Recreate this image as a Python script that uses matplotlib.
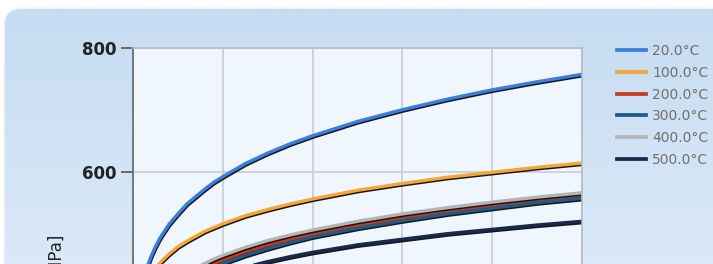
import matplotlib
matplotlib.use("Agg")
import matplotlib.pyplot as plt
import matplotlib.patheffects as pe
from matplotlib.patches import FancyBboxPatch
from matplotlib.lines import Line2D
import numpy as np

# strain positions (grid units) and stress [MPa]
strain = [0.15, 0.2, 0.25, 0.3, 0.4, 0.5, 0.6, 0.7, 0.8, 0.9, 1,
          1.25, 1.5, 1.75, 2, 2.5, 3, 3.5, 4, 4.5, 5]
s_20 = [443, 463, 479, 493, 515, 532, 548, 560, 572, 583, 592,
        613, 630, 645, 658, 681, 700, 717, 732, 745, 757]
s_100 = [420, 434, 444, 453, 467, 479, 488, 496, 504, 510, 516,
         529, 539, 548, 556, 570, 581, 591, 599, 607, 614]
s_200 = [362, 375, 386, 394, 409, 420, 430, 438, 446, 452, 458,
         471, 482, 491, 499, 513, 525, 535, 544, 552, 559]
s_300 = [353, 367, 377, 387, 401, 413, 423, 432, 439, 446, 452,
         465, 476, 486, 495, 509, 521, 532, 541, 550, 557]
s_400 = [369, 382, 393, 401, 416, 427, 437, 445, 452, 459, 465,
         478, 489, 498, 506, 520, 532, 542, 551, 559, 566]
s_500 = [352, 364, 373, 381, 393, 403, 411, 418, 424, 430, 435,
         446, 455, 463, 470, 482, 491, 500, 507, 514, 520]
labels = ["20.0°C", "100.0°C", "200.0°C", "300.0°C", "400.0°C", "500.0°C"]
colors = ["#3a7fe0", "#f7a534", "#c8391a", "#1e5b86", "#b4b4b4", "#172a4e"]
series = [s_20, s_100, s_200, s_300, s_400, s_500]
yticks = [600, 800]

W, H = 713, 264
fig = plt.figure(figsize=(W / 100, H / 100), dpi=100, facecolor="white")

# background panel with rounded corner and vertical gradient
bg = fig.add_axes([0, 0, 1, 1], zorder=-5)
bg.set_xlim(0, W)
bg.set_ylim(H, 0)
bg.axis("off")
shadow = FancyBboxPatch((3.5, 7.5), 900, 400, boxstyle="round,pad=0,rounding_size=18",
                        facecolor="#f1f1f1", edgecolor="none", zorder=-2)
bg.add_patch(shadow)
panel = FancyBboxPatch((5, 9), 900, 400, boxstyle="round,pad=0,rounding_size=17",
                       facecolor="none", edgecolor="none")
bg.add_patch(panel)
top = np.array([0xc6, 0xdc, 0xf2]) / 255
bot = np.array([0xe6, 0xf0, 0xfa]) / 255
t = np.linspace(0, 1, 256)[:, None]
grad = (top * (1 - t) + bot * t)[:, None, :].repeat(2, axis=1)
im = bg.imshow(grad, extent=(5, 905, 409, 9), aspect="auto", interpolation="bilinear", zorder=0)
im.set_clip_path(panel)

# plot area
px_per_unit = 124 / 200.0
ymin, ymax = 0, 800
h_px = (ymax - ymin) * px_per_unit
left, right, topy = 133, 582, 47.7
ax = fig.add_axes([left / W, 1 - (topy + h_px) / H, (right - left) / W, h_px / H])
ax.set_facecolor("#eff6fd")
ax.set_xlim(0, 5)
ax.set_ylim(ymin, ymax)
ax.set_xticks([0, 1, 2, 3, 4, 5])
ax.set_yticks(yticks)
ax.set_yticklabels([str(v) for v in yticks], fontweight="bold", fontfamily="DejaVu Sans")
ax.grid(True, color="#c9ccd0", linewidth=1.2)
ax.set_axisbelow(True)
for s in ["top", "right", "bottom"]:
    ax.spines[s].set_color("#b8bcc2")
    ax.spines[s].set_linewidth(1.2)
ax.spines["left"].set_color("#666666")
ax.spines["left"].set_linewidth(1.2)
ax.tick_params(axis="y", length=9, width=1.2, color="#555555", pad=3,
               labelsize=12, labelcolor="#222222")
ax.tick_params(axis="x", length=0, labelbottom=False)

for vals, c in zip(series, colors):
    ax.plot(strain, vals, color=c, linewidth=2.4, solid_capstyle="round",
            path_effects=[pe.SimpleLineShadow(offset=(0.5, -1.0), shadow_color="black", alpha=0.9),
                          pe.Normal()])

handles = [Line2D([], [], color=c, linewidth=2.7) for c in colors]
fig.legend(handles, labels, loc="upper left", bbox_to_anchor=(617 / W, 1 - 44 / H),
           frameon=False, fontsize=10, labelcolor="#707070", handlelength=2.1,
           handletextpad=0.45, labelspacing=0.56, borderpad=0, borderaxespad=0)

fig.text(57 / W, 1 - 235 / H, "Stress [MPa]", rotation=90, ha="center", va="top",
         fontsize=12, color="#222222")

fig.savefig("out.png", dpi=100, facecolor="white")
